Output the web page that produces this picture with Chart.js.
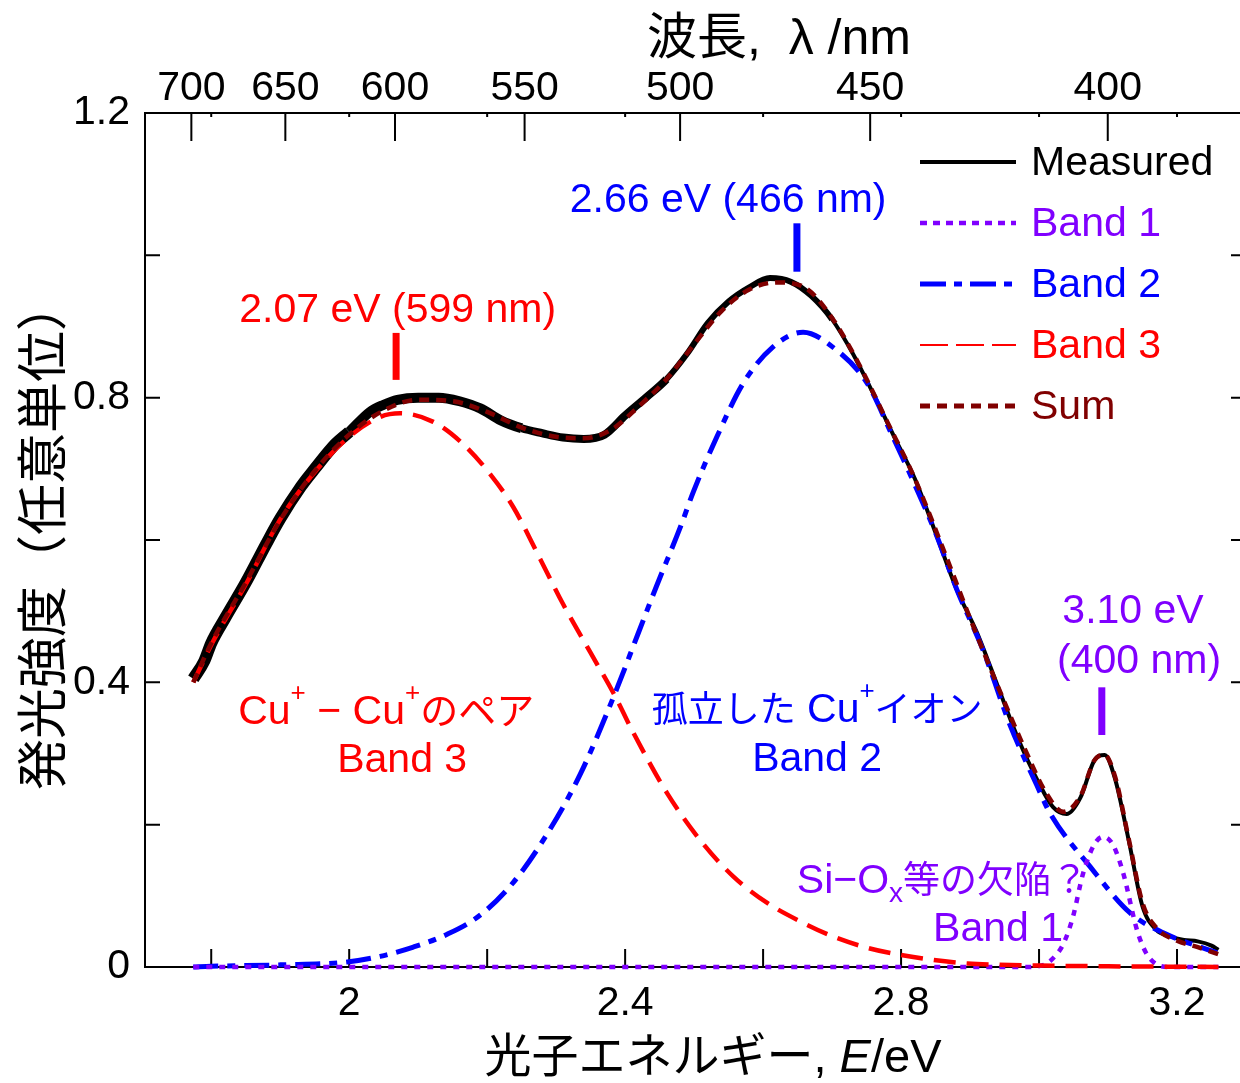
<!DOCTYPE html>
<html>
<head>
<meta charset="utf-8">
<script src="https://cdn.jsdelivr.net/npm/chart.js@4"></script>
<style>
html, body { margin: 0; padding: 0; overflow: hidden; background: #fff; }
#wrap { width: 1250px; height: 1083px; }
</style>
</head>
<body>
<div id="wrap"><canvas id="c" width="1250" height="1083"></canvas></div>
<script>
// axes
const energyMin = 1.704, energyMax = 3.3;
const energyTicks = [1.8, 2.0, 2.2, 2.4, 2.6, 2.8, 3.0, 3.2];
const energyLabels = [2, 2.4, 2.8, 3.2];
const intensityTicks = [0, 0.2, 0.4, 0.6, 0.8, 1.0, 1.2];
const intensityLabels = [0, 0.4, 0.8, 1.2];
const wavelengthTicks = [700, 650, 600, 550, 500, 450, 400];

// measured spectrum
const measuredE = [1.774, 1.79, 1.80, 1.82, 1.85, 1.88, 1.90, 1.93, 1.95, 1.98, 2.00, 2.03, 2.05, 2.07, 2.10, 2.13, 2.16, 2.19, 2.22, 2.25, 2.28, 2.31, 2.34, 2.37, 2.40, 2.43, 2.46, 2.49, 2.52, 2.55, 2.58, 2.61, 2.64, 2.67, 2.70, 2.73, 2.76, 2.79, 2.82, 2.85, 2.88, 2.91, 2.94, 2.97, 3.00, 3.02, 3.04, 3.06, 3.08, 3.095, 3.11, 3.13, 3.15, 3.17, 3.19, 3.21, 3.23, 3.25, 3.26];
const measuredI = [0.405, 0.43, 0.455, 0.49, 0.54, 0.595, 0.63, 0.675, 0.70, 0.735, 0.752, 0.78, 0.79, 0.797, 0.80, 0.80, 0.795, 0.785, 0.768, 0.757, 0.75, 0.744, 0.742, 0.748, 0.775, 0.80, 0.826, 0.862, 0.905, 0.935, 0.955, 0.968, 0.963, 0.943, 0.91, 0.862, 0.805, 0.745, 0.686, 0.61, 0.532, 0.47, 0.395, 0.32, 0.258, 0.225, 0.215, 0.238, 0.29, 0.298, 0.265, 0.178, 0.085, 0.052, 0.043, 0.038, 0.036, 0.030, 0.024];

// fitted bands
const band1E = [1.774, 2.98, 3.007, 3.02, 3.035, 3.049, 3.064, 3.08, 3.093, 3.107, 3.122, 3.142, 3.155, 3.17, 3.19, 3.26];
const band1I = [0, 0, 0.003, 0.012, 0.032, 0.07, 0.132, 0.172, 0.183, 0.172, 0.132, 0.052, 0.02, 0.004, 0, 0];

const band2E = [1.774, 1.80, 1.90, 1.997, 2.045, 2.093, 2.142, 2.19, 2.238, 2.287, 2.335, 2.383, 2.419, 2.445, 2.48, 2.499, 2.533, 2.571, 2.614, 2.658, 2.701, 2.751, 2.788, 2.817, 2.85, 2.881, 2.919, 2.958, 2.997, 3.016, 3.074, 3.132, 3.18, 3.258];
const band2I = [0, 0.001, 0.003, 0.007, 0.015, 0.028, 0.046, 0.073, 0.119, 0.187, 0.271, 0.379, 0.469, 0.534, 0.618, 0.668, 0.745, 0.820, 0.871, 0.892, 0.871, 0.820, 0.745, 0.684, 0.610, 0.530, 0.445, 0.340, 0.255, 0.216, 0.141, 0.076, 0.048, 0.020];

const band3E = [1.774, 1.803, 1.852, 1.90, 1.948, 2.00, 2.045, 2.074, 2.122, 2.165, 2.204, 2.238, 2.277, 2.31, 2.349, 2.383, 2.412, 2.461, 2.509, 2.557, 2.606, 2.654, 2.701, 2.751, 2.799, 2.846, 2.896, 2.943, 3.00, 3.10, 3.26];
const band3I = [0.400, 0.458, 0.541, 0.629, 0.693, 0.745, 0.773, 0.778, 0.766, 0.735, 0.693, 0.646, 0.573, 0.510, 0.443, 0.385, 0.329, 0.244, 0.178, 0.127, 0.090, 0.064, 0.043, 0.027, 0.017, 0.010, 0.005, 0.003, 0.002, 0.001, 0];

const sumE = [1.774, 1.80, 1.85, 1.90, 1.95, 2.00, 2.05, 2.10, 2.15, 2.20, 2.25, 2.30, 2.34, 2.38, 2.42, 2.46, 2.50, 2.54, 2.58, 2.62, 2.66, 2.70, 2.74, 2.78, 2.82, 2.86, 2.90, 2.94, 2.98, 3.01, 3.035, 3.06, 3.08, 3.095, 3.11, 3.13, 3.15, 3.17, 3.20, 3.23, 3.26];
const sumI = [0.40, 0.455, 0.54, 0.628, 0.697, 0.748, 0.782, 0.797, 0.795, 0.78, 0.758, 0.745, 0.743, 0.755, 0.788, 0.826, 0.875, 0.922, 0.952, 0.962, 0.955, 0.912, 0.845, 0.766, 0.686, 0.59, 0.49, 0.395, 0.305, 0.245, 0.218, 0.24, 0.29, 0.298, 0.268, 0.18, 0.09, 0.055, 0.037, 0.028, 0.018];

const RED = '#ff0000', BLUE = '#0000ff', PURPLE = '#8000ff', DARKRED = '#800000';
const LAT = "'Liberation Sans', Arial, 'Noto Sans CJK JP', sans-serif";
const JP = "'Noto Sans CJK JP', 'Liberation Sans', sans-serif";

function pts(xs, ys) {
    return xs.map((e, i) => ({ x: e, y: ys[i] }));
}

// annotation texts: [text, kind] kind = L latin, J japanese, sup, sub
const notes = [
    { e: 2.0703, v: 0.9063, c: RED, parts: [['2.07 eV (599 nm)', 'L']] },
    { e: 2.5493, v: 1.0609, c: BLUE, parts: [['2.66 eV (466 nm)', 'L']] },
    { e: 3.1362, v: 0.4834, c: PURPLE, parts: [['3.10 eV', 'L']] },
    { e: 3.1449, v: 0.4131, c: PURPLE, parts: [['(400 nm)', 'L']] },
    { e: 2.0536, v: 0.3414, c: RED, parts: [['Cu', 'L'], ['+', 'sup'], [' \u2212 ', 'L'], ['Cu', 'L'], ['+', 'sup'], ['のペア', 'J']] },
    { e: 2.0768, v: 0.2740, c: RED, parts: [['Band 3', 'L']] },
    { e: 2.6783, v: 0.3443, c: BLUE, parts: [['孤立した', 'J', '36px ' + "'Noto Sans CJK JP', sans-serif"], [' Cu', 'L'], ['+', 'sup'], ['イオン', 'J', '36px ' + "'Noto Sans CJK JP', sans-serif"]] },
    { e: 2.6783, v: 0.2754, c: BLUE, parts: [['Band 2', 'L']] },
    { e: 2.8600, v: 0.1040, c: PURPLE, parts: [['Si\u2212O', 'L'], ['x', 'sub'], ['等の欠陥？', 'J', '37px ' + "'Noto Sans CJK JP', sans-serif"]] },
    { e: 2.9406, v: 0.0365, c: PURPLE, parts: [['Band 1', 'L']] }
];

const markers = [
    { e: 2.068, v0: 0.825, v1: 0.891, c: RED },
    { e: 2.649, v0: 0.977, v1: 1.045, c: BLUE },
    { e: 3.091, v0: 0.326, v1: 0.393, c: PURPLE }
];

const legendRows = [
    { label: 'Measured', c: '#000', w: 4, dash: [] },
    { label: 'Band 1', c: PURPLE, w: 4.5, dash: [7, 6] },
    { label: 'Band 2', c: BLUE, w: 5, dash: [26, 8, 8, 8] },
    { label: 'Band 3', c: RED, w: 2, dash: [28, 8] },
    { label: 'Sum', c: DARKRED, w: 5, dash: [10, 7] }
];

function fontFor(kind) {
    if (kind === 'J') return '38px ' + JP;
    if (kind === 'sup') return '26px ' + LAT;
    if (kind === 'sub') return '28px ' + LAT;
    return '41px ' + LAT;
}

function drawRuns(ctx, parts, cx, by, color) {
    let total = 0;
    const ws = parts.map(p => {
        ctx.font = p[2] || fontFor(p[1]);
        const w = ctx.measureText(p[0]).width;
        total += w;
        return w;
    });
    let x = cx - total / 2;
    ctx.fillStyle = color;
    ctx.textAlign = 'left';
    ctx.textBaseline = 'alphabetic';
    parts.forEach((p, i) => {
        ctx.font = p[2] || fontFor(p[1]);
        let dy = 0;
        if (p[1] === 'sup') dy = -23;
        if (p[1] === 'sub') dy = 9;
        ctx.fillText(p[0], x, by + dy);
        x += ws[i];
    });
}

const decor = {
    id: 'decor',
    beforeDatasetsDraw(chart) {
        const { ctx, chartArea: a, scales } = chart;
        const x = scales.x, y = scales.y;
        ctx.save();
        ctx.strokeStyle = '#000';
        ctx.lineWidth = 2;
        ctx.beginPath();
        ctx.rect(a.left, a.top, a.right - a.left, a.bottom - a.top);
        energyTicks.forEach(v => {
            const px = x.getPixelForValue(v);
            ctx.moveTo(px, a.bottom); ctx.lineTo(px, a.bottom - 18);
            ctx.moveTo(px, a.top); ctx.lineTo(px, a.top + 4);
        });
        intensityTicks.forEach(v => {
            const py = y.getPixelForValue(v);
            ctx.moveTo(a.left, py); ctx.lineTo(a.left + 15, py);
            ctx.moveTo(a.right, py); ctx.lineTo(a.right - 15, py);
        });
        wavelengthTicks.forEach(w => {
            const px = x.getPixelForValue(1239.84 / w);
            ctx.moveTo(px, a.top); ctx.lineTo(px, a.top + 28);
        });
        ctx.stroke();
        ctx.restore();
    },
    afterDatasetsDraw(chart) {
        const { ctx, scales } = chart;
        const x = scales.x, y = scales.y;
        ctx.save();

        // peak markers
        markers.forEach(m => {
            ctx.strokeStyle = m.c;
            ctx.lineWidth = 7;
            ctx.setLineDash([]);
            ctx.beginPath();
            ctx.moveTo(x.getPixelForValue(m.e), y.getPixelForValue(m.v0));
            ctx.lineTo(x.getPixelForValue(m.e), y.getPixelForValue(m.v1));
            ctx.stroke();
        });

        notes.forEach(n => drawRuns(ctx, n.parts, x.getPixelForValue(n.e), y.getPixelForValue(n.v), n.c));

        // legend
        legendRows.forEach((r, i) => {
            const ly = 162 + i * 61;
            ctx.strokeStyle = r.c;
            ctx.lineWidth = r.w;
            ctx.setLineDash(r.dash);
            ctx.beginPath();
            ctx.moveTo(920, ly);
            ctx.lineTo(1016, ly);
            ctx.stroke();
            ctx.setLineDash([]);
            ctx.fillStyle = r.c;
            ctx.font = '41px ' + LAT;
            ctx.textAlign = 'left';
            ctx.textBaseline = 'alphabetic';
            ctx.fillText(r.label, 1031, 175 + i * 61);
        });

        // axis titles
        drawRuns(ctx, [['光子エネルギー', 'J', '47px ' + JP], [', ', 'L', '47px ' + LAT], ['E', 'L', 'italic 47px ' + LAT], ['/eV', 'L', '47px ' + LAT]], 713, 1072, '#000');
        drawRuns(ctx, [['波長', 'J', '50px ' + JP], [',  ', 'L', '50px ' + LAT], ['λ', 'L', '50px ' + LAT], [' /nm', 'L', '50px ' + LAT]], 779, 54, '#000');
        ctx.save();
        ctx.translate(42, 535);
        ctx.rotate(-Math.PI / 2);
        ctx.font = '51px ' + JP;
        ctx.fillStyle = '#000';
        ctx.textAlign = 'center';
        ctx.textBaseline = 'middle';
        ctx.fillText('発光強度（任意単位）', 0, 0);
        ctx.restore();

        ctx.restore();
    }
};

const tickFont = { family: LAT, size: 41 };

new Chart(document.getElementById('c'), {
    type: 'line',
    data: {
        datasets: [
            {
                label: 'Measured',
                data: pts(measuredE, measuredI),
                borderColor: '#000',
                borderWidth: 4,
                borderJoinStyle: 'round',
                segment: {
                    borderWidth: c => {
                        const e = c.p0.parsed.x;
                        return e < 2.0 ? 12 : e < 2.25 ? 10 : e < 2.45 ? 8 : e < 2.68 ? 6 : 4;
                    }
                },
                order: 4
            },
            {
                label: 'Band 1',
                data: pts(band1E, band1I),
                borderColor: PURPLE,
                borderWidth: 4.5,
                borderDash: [6, 7],
                order: 2
            },
            {
                label: 'Band 2',
                data: pts(band2E, band2I),
                borderColor: BLUE,
                borderWidth: 5,
                borderDash: [25, 9, 8, 9],
                order: 3
            },
            {
                label: 'Band 3',
                data: pts(band3E, band3I),
                borderColor: RED,
                borderWidth: 4.5,
                borderDash: [22, 11],
                order: 1
            },
            {
                label: 'Sum',
                data: pts(sumE, sumI),
                borderColor: DARKRED,
                borderWidth: 4.5,
                borderDash: [10, 7],
                order: 0
            }
        ]
    },
    options: {
        responsive: false,
        animation: false,
        layout: { padding: { left: 0, right: 4, top: 0, bottom: 0 } },
        datasets: { line: { clip: false, pointRadius: 0, cubicInterpolationMode: 'monotone', fill: false } },
        plugins: { legend: { display: false }, tooltip: { enabled: false } },
        scales: {
            x: {
                type: 'linear',
                position: 'bottom',
                min: energyMin,
                max: energyMax,
                grid: { display: false },
                border: { display: false },
                afterBuildTicks: s => { s.ticks = energyTicks.map(v => ({ value: v })); },
                afterFit: s => { s.height = 116; },
                ticks: {
                    autoSkip: false, maxRotation: 0, padding: 4, color: '#000', font: tickFont,
                    callback: v => energyLabels.includes(v) ? String(v) : ''
                }
            },
            x2: {
                type: 'linear',
                position: 'top',
                min: energyMin,
                max: energyMax,
                grid: { display: false },
                border: { display: false },
                afterBuildTicks: s => { s.ticks = wavelengthTicks.map(w => ({ value: 1239.84 / w })); },
                afterFit: s => { s.height = 113; },
                ticks: {
                    autoSkip: false, maxRotation: 0, padding: -8, color: '#000', font: tickFont,
                    callback: (v, i) => String(wavelengthTicks[i])
                }
            },
            y: {
                min: 0,
                max: 1.2,
                grid: { display: false },
                border: { display: false },
                afterBuildTicks: s => { s.ticks = intensityTicks.map(v => ({ value: v })); },
                afterFit: s => { s.width = 145; },
                ticks: {
                    autoSkip: false, padding: 7, color: '#000', font: tickFont,
                    callback: v => intensityLabels.includes(v) ? String(v) : ''
                }
            }
        }
    },
    plugins: [decor]
});
</script>
</body>
</html>
